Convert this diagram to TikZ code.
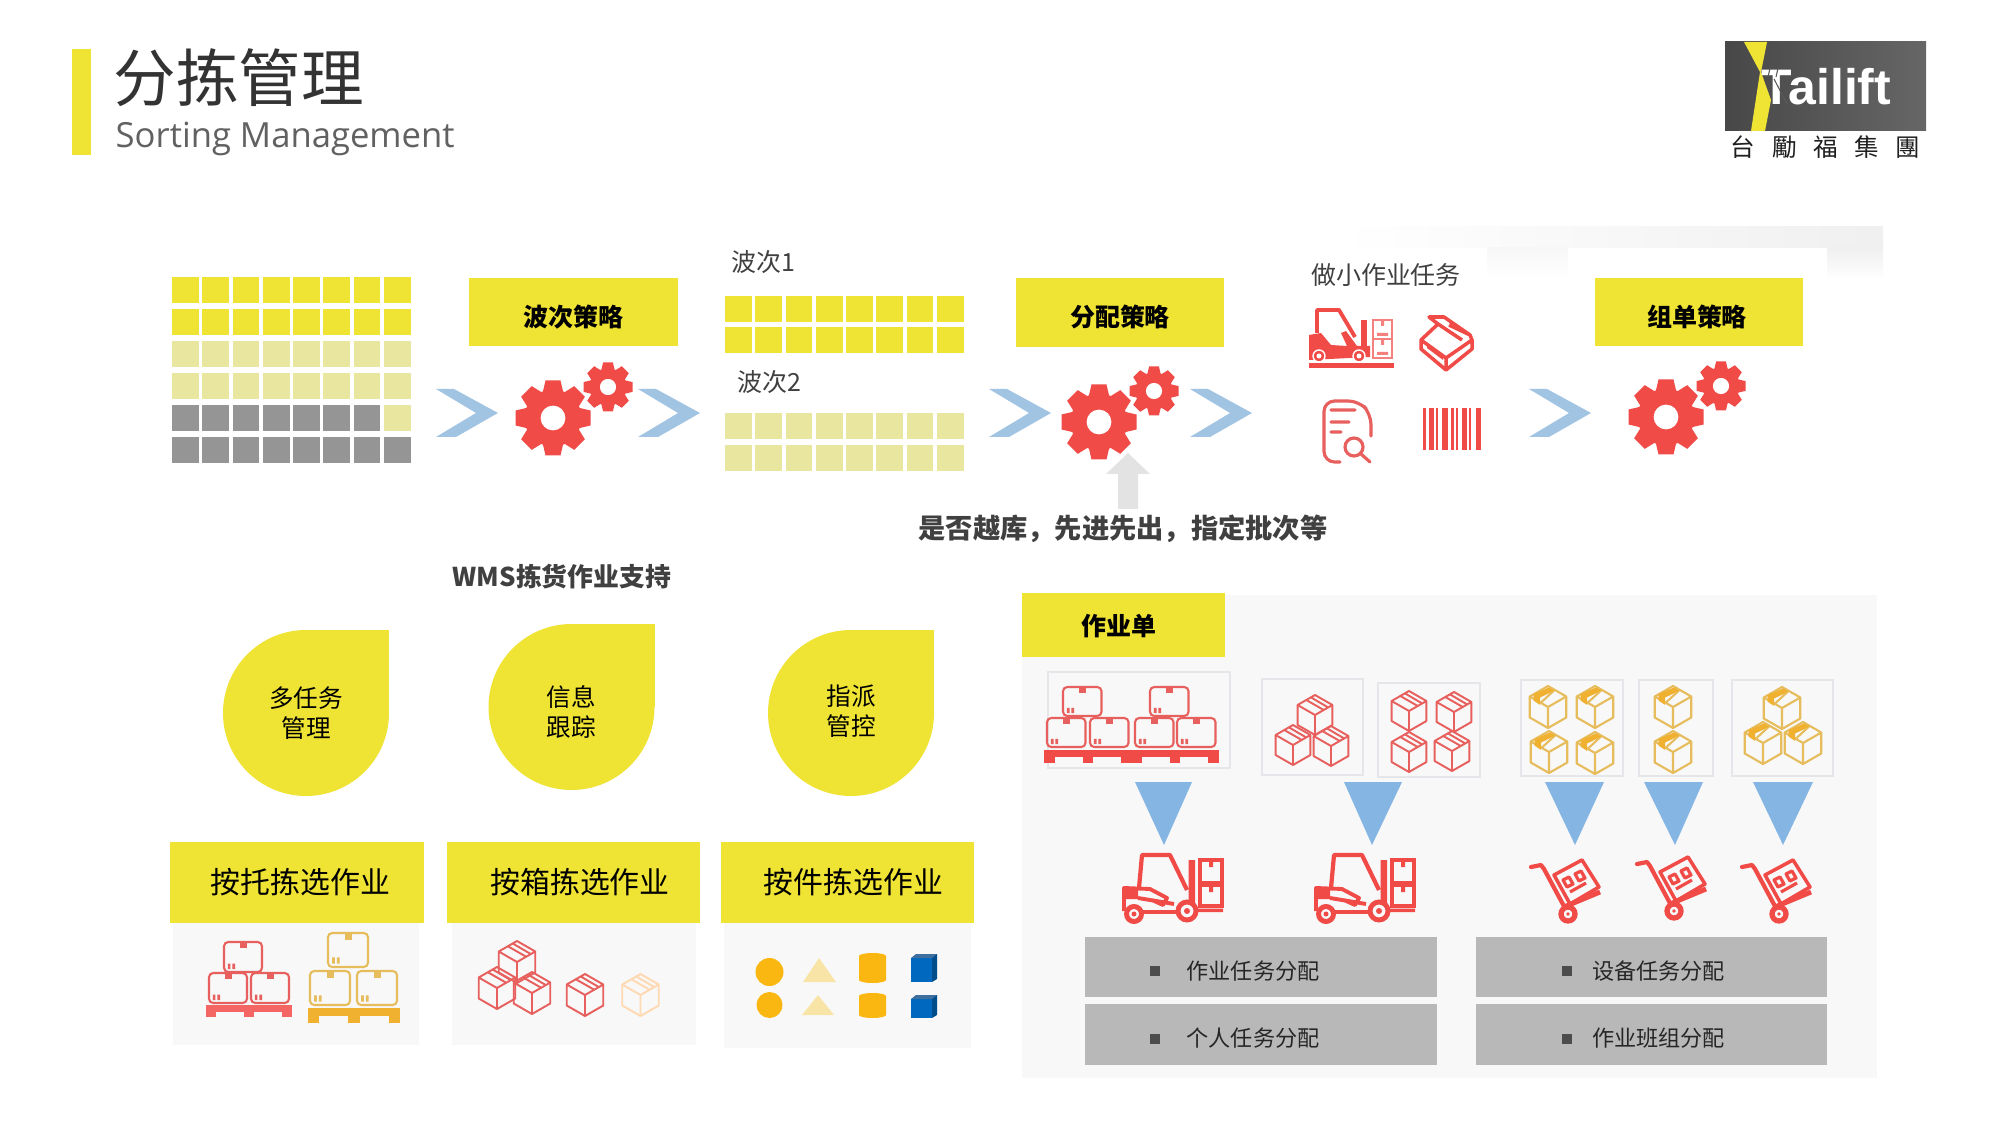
\documentclass[tikz,border=0pt]{standalone}
\usepackage{fontspec}
\setmainfont{Noto Sans CJK SC}
\newfontfamily\latinfont{Open Sans}
\newfontfamily\logofont{Liberation Sans}
\newfontfamily\twfont{Noto Sans CJK TC}
\definecolor{liftyellow}{HTML}{EFE334}
\definecolor{paleyellow}{HTML}{E9E69F}
\definecolor{cellgray}{HTML}{959595}
\definecolor{gearred}{HTML}{F14B47}
\definecolor{linered}{HTML}{E7605E}
\definecolor{lineorange}{HTML}{E6BC5C}
\definecolor{palletorange}{HTML}{EFB12F}
\definecolor{iconamber}{HTML}{FAB712}
\definecolor{palesand}{HTML}{F9E4A8}
\definecolor{chevblue}{HTML}{A2C4E3}
\definecolor{triblue}{HTML}{85B5E3}
\definecolor{panelgray}{HTML}{F8F8F8}
\definecolor{framegray}{HTML}{E4E6EA}
\definecolor{bargray}{HTML}{B8B8B8}
\tikzset{
    strategybox/.style = {fill=liftyellow, inner sep=0pt, minimum width=20.8mm, minimum height=6.8mm},
    strategytext/.style = {inner sep=0pt, font=\fontsize{7.1}{8}\selectfont\bfseries},
    pickbox/.style = {fill=liftyellow, inner sep=0pt, minimum width=25.3mm, minimum height=8.1mm},
    picktext/.style = {inner sep=0pt, font=\fontsize{8.5}{10}\selectfont},
    taskbar/.style = {fill=bargray, inner sep=0pt, minimum width=35.1mm, minimum height=6mm},
    tasktext/.style = {font=\fontsize{6.3}{7.5}\selectfont, text=black!85},
    wavetext/.style = {font=\fontsize{7.1}{8.5}\selectfont, text=black!75},
    droptext/.style = {align=center, font=\fontsize{7}{8.6}\selectfont},
    framebox/.style = {draw=framegray, line width=.6pt},
    pics/cellrow/.style = {code={
            \foreach \col in {0,...,7}
            \fill[#1] (30.25*\col,0) rectangle +(26.8,26.2);
        }},
    pics/gearicon/.style = {code={
            \fill[gearred] (0,0) circle (.76);
            \foreach \tooth in {0,45,...,315}
            \fill[gearred, rotate=\tooth] (-.27,.7) -- (-.2,1) -- (.2,1) -- (.27,.7) -- cycle;
            \fill[white] (0,0) circle (.33);
        }},
    pics/gearpair/.style = {code={
            \pic[scale=37.5] at (0,0) {gearicon};
            \pic[scale=24.5] at (55,-31) {gearicon};
        }},
    pics/chevron/.style = {code={
            \fill[chevblue] (0,0) -- (18,0) -- (62,24) -- (20,48) -- (0,48) -- (40,24) -- cycle;
        }},
    pics/cubeicon/.style = {code={
            \draw[#1, line width=.55pt, line join=round] (0,-1) -- (.87,-.5) -- (.87,.5) -- (0,1) -- (-.87,.5) -- (-.87,-.5) -- cycle
            (-.87,-.5) -- (0,0) -- (.87,-.5) (0,0) -- (0,1)
            (-.42,-.74) -- (.42,-.26) (-.2,-.88) -- (.62,-.4);
        }},
    pics/cubetape/.style = {code={
            \draw[lineorange, line width=.6pt, line join=round] (0,-1) -- (.87,-.5) -- (.87,.5) -- (0,1) -- (-.87,.5) -- (-.87,-.5) -- cycle
            (-.87,-.5) -- (0,0) -- (.87,-.5) (0,0) -- (0,1) (.3,-.8) -- (-.35,-.2);
            \fill[palletorange] (-.68,-.62) -- (.05,-.93) -- (.3,-.78) -- (-.38,-.45) -- (-.38,-.1) -- (-.68,-.3) -- cycle;
        }},
    pics/carton/.style = {code={
            \draw[#1, line width=.6pt, rounded corners=1.2pt] (0,0) rectangle (1,1);
            \fill[#1] (.42,0) rectangle (.6,.2);
            \fill[#1] (.1,.72) rectangle (.17,.9) (.22,.72) rectangle (.29,.9);
        }},
    pics/pallet/.style = {code={
            \fill[#1] (0,0) rectangle (1,.55);
            \foreach \foot in {0,.44,.88}
            \fill[#1] (\foot,.5) rectangle (\foot+.12,1);
        }},
    pics/forkline/.style = {code={
            \draw[gearred, line width=1.2pt, line join=round] (15,34) -- (18,1) -- (46,1) -- (63,36);
            \draw[gearred, line width=1.1pt, line join=round] (0,57) -- (0,34) -- (26,35) -- (43,44) -- (39,51) -- (28,46)
            (19,58) -- (52,58) (14,44) -- (50,50);
            \fill[gearred] (0,35) rectangle (14,45) (64.5,6) rectangle (71,52);
            \draw[gearred, line width=.9pt] (76,6) rectangle (98,29) (76,31) rectangle (98,52);
            \fill[gearred] (85,6) rectangle (89,13) (85,31) rectangle (89,38) (66,54.5) rectangle (99,58);
            \draw[gearred, line width=1.4pt, fill=panelgray] (10,60) circle (7.5) (63,57) circle (9);
            \fill[gearred] (10,60) circle (2.5) (63,57) circle (3);
        }},
    pics/forksolid/.style = {code={
            \draw[gearred, line width=1.1pt, line join=round] (8,24) -- (8,1) -- (30,1) -- (46,28);
            \fill[gearred] (0,26) -- (12,24) -- (22,36) -- (38,37) -- (32,24) -- (37,22) -- (48,37) -- (61,37) -- (61,48) -- (0,51) -- cycle;
            \fill[gearred] (52,11) rectangle (58,40);
            \fill[gearred] (0,54) rectangle (85,59);
            \draw[white, line width=.4pt, fill=gearred] (10,47) circle (6) (50,47) circle (6);
            \fill[white] (10,47) circle (2.5) (50,47) circle (2.5);
            \draw[gearred!70, line width=.5pt] (64,11) rectangle (83,30) (64,30) rectangle (83,49);
            \fill[gearred!70] (72,11) rectangle (75,17) (72,30) rectangle (75,36) (68,24) rectangle (79,27) (68,43) rectangle (79,46);
        }},
    pics/openbox/.style = {code={
            \draw[gearred, line width=1pt, line join=round] (-25,-3) -- (-8,-19) -- (-17,-26) -- (-2,-26) -- (24,-8) -- (26,-3) -- (26,6) -- (0,27) -- (-25,6) -- cycle
            (-25,-3) -- (0,15) -- (26,-3) (0,15) -- (0,27) (-8,-19) -- (16,-3) (3,-18) -- (24,-8);
            \fill[gearred] (-19,1) -- (-3,13) -- (-3,17) -- (-19,5) -- cycle;
        }},
    pics/docicon/.style = {code={
            \draw[linered, line width=.9pt, rounded corners=3pt, line cap=round] (17,62) -- (1,62) -- (1,1) -- (36,1) -- (48,14) -- (48,36);
            \draw[linered, line width=.9pt, line cap=round] (8,10) -- (32,10) (8,22) -- (26,22) (8,32) -- (18,32) (38,54) -- (47,62);
            \draw[linered, line width=.9pt] (31,47) circle (9);
        }},
    pics/barcode/.style = {code={
            \foreach \bx/\bw in {0/3,6/5,13/2,19/6,28/2.5,33/2,39/5,46/2,53/5}
            \fill[gearred] (\bx,0) rectangle +(\bw,42);
        }},
    pics/cartline/.style = {code={
            \draw[gearred, line width=1.2pt, line cap=round, line join=round] (0,7) -- (10,5) -- (13,9) -- (35,50);
            \draw[gearred, line width=1.4pt] (33,47) -- (69,32);
            \draw[gearred, line width=1pt, line join=round] (23,15) -- (51,0) -- (68,27) -- (39,44) -- cycle;
            \draw[gearred, line width=.9pt, line join=round] (32,20) -- (38,17) -- (42,24) -- (36,27) -- cycle (44,14) -- (50,11) -- (54,18) -- (48,21) -- cycle (39,32) -- (55,23);
            \draw[gearred, line width=1.5pt, fill=panelgray] (37,54) circle (7);
            \fill[gearred] (37,54) circle (1.8);
        }},
}
\begin{document}
\begin{tikzpicture}[x=0.01cm, y=-0.01cm]
    \useasboundingbox (0,0) rectangle (2000,1125);
    \fill[white] (0,0) rectangle (2000,1125);

    \fill[liftyellow] (72,49) rectangle (91,155);
    \node[anchor=west, inner sep=0pt, text=black!80, font=\fontsize{17.8}{20}\selectfont] (title) at (113,78) {分拣管理};
    \node[anchor=base west, inner sep=0pt, text=black!62, font=\latinfont\fontsize{9.85}{11}\selectfont] (subtitle) at (115,148) {Sorting Management};

    \shade[left color=black!72, right color=black!60] (1725,42) rectangle (1926,131);
    \fill[liftyellow] (1744,42) -- (1767,42) -- (1761,72) -- (1771,100) -- (1765,131) -- (1751,131) -- (1760,72) -- cycle;
    \node[anchor=base west, inner sep=0pt, text=white, font=\logofont\bfseries\fontsize{14.2}{16}\selectfont] (logotext) at (1761,105) {Tailift};
    \draw[black!65, line width=.3pt] (1770,68) -- (1768,77) (1778,68) -- (1776,77) (1774,79) -- (1787,104);
    \node[inner sep=0pt, text=black!88, font=\twfont\fontsize{7}{8}\selectfont] (logoname) at (1825.5,147) {台\hspace{1.65mm}勵\hspace{1.65mm}福\hspace{1.65mm}集\hspace{1.65mm}團};

    \shade[left color=white, right color=black!6] (1340,227) rectangle (1883,248);
    \shade[top color=black!6, bottom color=white] (1827,248) rectangle (1883,280);
    \shade[top color=black!3, bottom color=white] (1487,248) rectangle (1568,280);

    \foreach \rowy/\rowcol in {277/liftyellow, 309/liftyellow, 341/paleyellow, 373/paleyellow, 405/cellgray, 437/cellgray}
    \pic at (172,\rowy) {cellrow=\rowcol};
    \fill[white] (383,404) rectangle (412,432);
    \fill[paleyellow] (383.8,405) rectangle +(26.8,26.2);

    \foreach \rowy/\rowcol in {296/liftyellow, 327/liftyellow, 413/paleyellow, 445/paleyellow}
    \pic at (725,\rowy) {cellrow=\rowcol};

    \node[strategybox] (wavebox) at (573.5,312) {};
    \node[strategytext] (wavelabel) at (573.5,317) {波次策略};
    \node[strategybox] (allocbox) at (1120,312.5) {};
    \node[strategytext] (alloclabel) at (1120,317) {分配策略};
    \node[strategybox] (groupbox) at (1699,312) {};
    \node[strategytext] (grouplabel) at (1697,317) {组单策略};

    \foreach \chevx in {436,638,989,1190,1529}
    \pic at (\chevx,389) {chevron};
    \foreach \gearx/\geary in {553/418, 1099/422, 1666/417}
    \pic at (\gearx,\geary) {gearpair};

    \node[wavetext, inner sep=0pt] (waveone) at (763,262) {波次1};
    \node[wavetext, inner sep=0pt] (wavetwo) at (769,382) {波次2};
    \node[wavetext, inner sep=0pt] (smalltask) at (1386,275) {做小作业任务};

    \pic at (1309,309) {forksolid};
    \pic at (1446,343) {openbox};
    \pic at (1323,400) {docicon};
    \pic at (1423,408) {barcode};

    \fill[black!11] (1128,453) -- (1150,474) -- (1138,474) -- (1138,509) -- (1118,509) -- (1118,474) -- (1106,474) -- cycle;
    \node[inner sep=0pt, text=black!75, font=\fontsize{7.75}{9}\selectfont\bfseries] (notetext) at (1123,529) {是否越库，先进先出，指定批次等};
    \node[inner sep=0pt, text=black!75, font=\fontsize{7.35}{9}\selectfont\bfseries] (wmstext) at (562,577) {WMS拣货作业支持};

    \foreach \dropx/\dropy/\dropname/\droplabel/\textshift in {306/713/dropa/多任务\\管理/0, 571.5/707/dropb/信息\\跟踪/5, 851/713/dropc/指派\\管控/-2}{
        \fill[liftyellow] (\dropx,\dropy) circle (83);
        \fill[liftyellow] (\dropx,\dropy-83) rectangle (\dropx+83,\dropy);
        \node[droptext, inner sep=0pt] (\dropname) at (\dropx,\dropy+\textshift) {\droplabel};
    }

    \foreach \panx/\panw/\panb in {173/246/1045, 452/244/1045, 724/247/1048}
    \fill[panelgray] (\panx,923) rectangle +(\panw,\panb-923);
    \node[pickbox] (pickpallet) at (297,882.5) {};
    \node[pickbox] (pickcase) at (573.5,882.5) {};
    \node[pickbox] (pickunit) at (847.5,882.5) {};
    \node[picktext] (pickpallettext) at (300.5,882) {按托拣选作业};
    \node[picktext] (pickcasetext) at (580,882) {按箱拣选作业};
    \node[picktext] (pickunittext) at (853.5,882) {按件拣选作业};

    \foreach \bx/\by in {224/942, 209/973, 251/973}
    \pic[xscale=38, yscale=30] at (\bx,\by) {carton=linered};
    \pic[xscale=86, yscale=12] at (206,1005) {pallet=gearred!85};
    \foreach \bx/\by in {328/933, 310/971, 357/971}
    \pic[xscale=40, yscale=34] at (\bx,\by) {carton=lineorange};
    \pic[xscale=92, yscale=15] at (308,1008) {pallet=palletorange};

    \foreach \cx/\cy in {517/962, 497/988, 532/993, 585/995}
    \pic[scale=21] at (\cx,\cy) {cubeicon=linered};
    \pic[scale=21] at (640.5,995) {cubeicon={orange!30!white}};

    \foreach \sy/\sr in {972/14, 1005/13}{
        \fill[iconamber] (769.5,\sy) circle (\sr);
    }
    \fill[palesand] (819,958) -- (836,982) -- (803,982) -- cycle (818,995) -- (834,1015) -- (802,1015) -- cycle;
    \fill[iconamber] (859,956) rectangle (886,980) (859,996) rectangle (886,1015);
    \fill[iconamber] (872.5,956) ellipse (13.5 and 3) (872.5,980) ellipse (13.5 and 3) (872.5,996) ellipse (13.5 and 3) (872.5,1015) ellipse (13.5 and 3);
    \foreach \by/\bh in {954/28, 995/23}{
        \fill[blue!45!cyan!75!black] (911,\by+4) rectangle (932,\by+\bh);
        \fill[blue!45!cyan!55!black] (932,\by) -- (937,\by) -- (937,\by+\bh-3) -- (932,\by+\bh) -- cycle;
        \fill[cyan!60!blue!70!black] (911,\by+4) -- (916,\by) -- (937,\by) -- (932,\by+4) -- cycle;
    }

    \fill[panelgray] (1022,595) rectangle (1877,1078);
    \node[fill=liftyellow, inner sep=0pt, minimum width=20.3mm, minimum height=6.4mm] (orderbox) at (1123.5,625) {};
    \node[strategytext] (orderlabel) at (1119,626) {作业单};

    \foreach \fx/\fy/\fxb/\fyb in {1048/672/1230/768, 1262/679/1363/775, 1378/683/1480/777, 1521/680/1623/776, 1639/680/1713/776, 1732/680/1833/776}
    \draw[framebox] (\fx,\fy) rectangle (\fxb,\fyb);

    \foreach \bx/\by in {1063/687, 1150/687, 1047/718, 1090/718, 1135/718, 1177/718}
    \pic[xscale=38.5, yscale=29] at (\bx,\by) {carton=linered};
    \pic[xscale=88, yscale=13] at (1044,750) {pallet=gearred};
    \pic[xscale=88, yscale=13] at (1131,750) {pallet=gearred};

    \foreach \cx/\cy in {1315/715, 1293/745, 1331/746, 1409/711, 1454/712, 1409/752, 1452/751}
    \pic[scale=20] at (\cx,\cy) {cubeicon=linered};
    \foreach \cx/\cy in {1548/707, 1595/707, 1549/752, 1595/753, 1673/707, 1673/752, 1782/708, 1763/743, 1803/743}
    \pic[scale=21] at (\cx,\cy) {cubetape};

    \foreach \tl/\tr/\tx in {1135/1192/1164, 1344/1402/1372, 1545/1604/1575, 1644/1703/1675, 1753/1813/1783}
    \fill[triblue] (\tl,782) -- (\tr,782) -- (\tx,845) -- cycle;

    \pic at (1124,854) {forkline};
    \pic at (1316,854) {forkline};
    \pic at (1531,860) {cartline};
    \pic at (1637,857) {cartline};
    \pic at (1742,860) {cartline};

    \foreach \barx/\bary/\barname/\bartext/\dotshift/\textshift in {1261/967/bara/作业任务分配/-111/-8, 1261/1034.5/barb/个人任务分配/-111/-8, 1651.5/967/barc/设备任务分配/-90/7, 1651.5/1034.5/bard/作业班组分配/-90/7}{
        \node[taskbar] (\barname) at (\barx,\bary) {};
        \fill[black!70] (\barx+\dotshift,\bary) ++(0,-1) rectangle +(10,10);
        \node[tasktext, inner sep=0pt] (\barname text) at (\barx+\textshift,\bary+4) {\bartext};
    }
\end{tikzpicture}
\end{document}
